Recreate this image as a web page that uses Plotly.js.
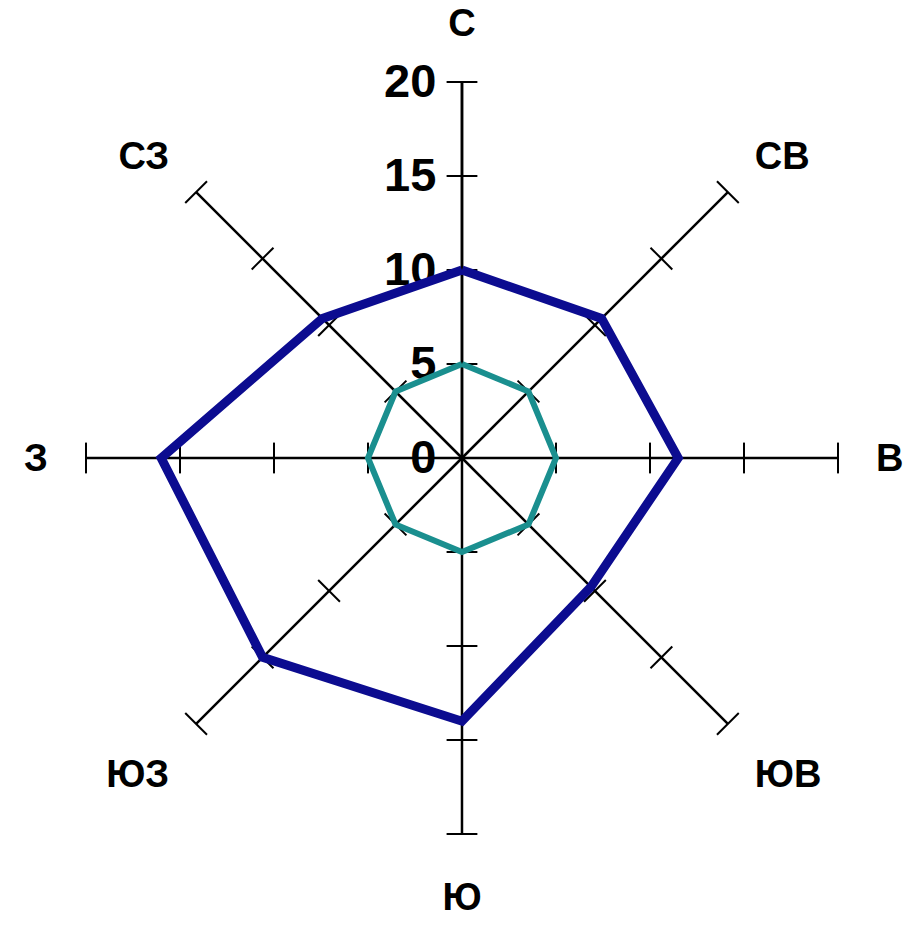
<!DOCTYPE html>
<html>
<head>
<meta charset="utf-8">
<script src="https://cdn.plot.ly/plotly-3.0.1.min.js"></script>
<style>html,body{margin:0;padding:0;background:#fff;}</style>
</head>
<body>
<div id="chart" style="width:908px;height:950px;"></div>
<script>
const directions = ["С", "СВ", "В", "ЮВ", "Ю", "ЮЗ", "З", "СЗ"];
const seriesOuter = [10, 10.5, 11.5, 9.7, 14, 15, 16, 10.5];
const seriesInner = [5, 5, 5, 5, 5, 5, 5, 5];
const radialTicks = [0, 5, 10, 15, 20];

const close = a => a.concat([a[0]]);

// tick marks on every spoke, built from the radial tick values
const tickR = [], tickTheta = [], tickAngle = [];
directions.forEach((d, i) => {
  radialTicks.filter(v => v > 0).forEach(v => {
    tickR.push(v); tickTheta.push(d); tickAngle.push(i * 45);
  });
});

const traces = [
  {
    type: "scatterpolar", mode: "markers", r: tickR, theta: tickTheta,
    marker: {symbol: "line-ew", size: 22, angle: tickAngle, color: "#000",
             line: {color: "#000", width: 2}},
    hoverinfo: "skip", showlegend: false
  },
  {
    type: "scatterpolar", mode: "lines", r: close(seriesInner), theta: close(directions),
    line: {color: "#1a8f8f", width: 6}, showlegend: false
  },
  {
    type: "scatterpolar", mode: "lines", r: close(seriesOuter), theta: close(directions),
    line: {color: "#0c0c90", width: 9}, showlegend: false
  }
];

const layout = {
  width: 908, height: 950,
  margin: {l: 0, r: 0, t: 0, b: 0},
  paper_bgcolor: "#fff",
  showlegend: false,
  font: {family: "Liberation Sans, Arial, sans-serif", color: "#000"},
  polar: {
    domain: {x: [0.0947, 0.9229], y: [0.1221, 0.9137]},
    bgcolor: "rgba(0,0,0,0)",
    radialaxis: {
      range: [0, 20], angle: 90, tickangle: 90, tickvals: radialTicks, ticktext: radialTicks.map(String),
      showgrid: false, showline: true, linecolor: "#000", linewidth: 2.5,
      ticks: "outside", ticklen: 8, tickcolor: "rgba(0,0,0,0)",
      side: "counterclockwise", layer: "below traces",
      tickfont: {size: 47, weight: "bold", color: "#000"}
    },
    angularaxis: {
      type: "category", categoryarray: directions, rotation: 90, direction: "clockwise",
      showgrid: true, gridcolor: "#000", gridwidth: 2.5, showline: false,
      ticks: "outside", ticklen: 30, tickcolor: "rgba(0,0,0,0)", layer: "below traces",
      tickfont: {size: 38, weight: "bold", color: "#000"}
    }
  }
};

Plotly.newPlot("chart", traces, layout, {displayModeBar: false, staticPlot: true});
</script>
</body>
</html>
